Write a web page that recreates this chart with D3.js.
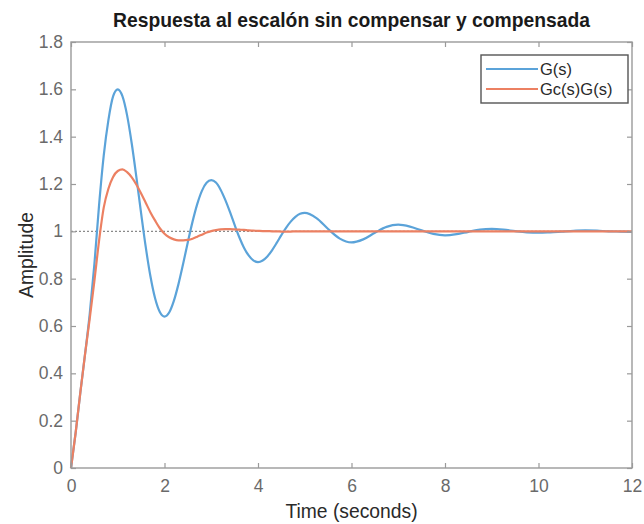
<!DOCTYPE html>
<html><head><meta charset="utf-8">
<script src="https://cdn.jsdelivr.net/npm/d3@7"></script>
<style>body{margin:0;background:#fff}svg{display:block}</style>
</head><body><svg id="c" width="644" height="524"></svg>
<script>
const titleText = "Respuesta al escalón sin compensar y compensada";
const xLabel = "Time (seconds)";
const yLabel = "Amplitude";
const seriesNames = ["G(s)", "Gc(s)G(s)"];
const xTicks = [0, 2, 4, 6, 8, 10, 12];
const yTicks = [0, 0.2, 0.4, 0.6, 0.8, 1, 1.2, 1.4, 1.6, 1.8];
const time = [0,0.1,0.2,0.3,0.4,0.5,0.6,0.7,0.8,0.9,1.0,1.1,1.2,1.3,1.4,1.5,1.6,1.7,1.8,1.9,2.0,
  2.1,2.2,2.3,2.4,2.5,2.6,2.7,2.8,2.9,3.0,3.1,3.2,3.3,3.4,3.5,3.6,3.7,3.8,3.9,4.0,
  4.1,4.2,4.3,4.4,4.5,4.6,4.7,4.8,4.9,5.0,
  5.25,5.5,5.75,6,6.25,6.5,6.75,7,7.25,7.5,7.75,8,8.25,8.5,8.75,9,9.25,9.5,9.75,10,10.25,10.5,10.75,11,11.25,11.5,11.75,12];
const gValues = [0,0.15,0.32,0.48,0.65,0.86,1.11,1.32,1.47,1.57,1.60,1.571,1.49,1.37,1.227,1.076,0.932,0.809,0.716,0.659,0.64,
  0.657,0.706,0.778,0.864,0.955,1.041,1.115,1.171,1.205,1.216,1.206,1.176,1.133,1.082,1.027,0.975,0.931,0.898,0.877,0.870,
  0.877,0.894,0.920,0.951,0.984,1.015,1.041,1.061,1.074,1.078,
  1.056,1.010,0.969,0.953,0.966,0.994,1.019,1.028,1.020,1.004,0.989,0.983,0.988,0.998,1.007,1.010,1.007,1.001,0.996,0.994,0.996,0.999,1.002,1.004,1.003,1.000,0.999,0.998];
const gcgValues = [0,0.15,0.32,0.48,0.63,0.79,0.96,1.10,1.18,1.23,1.255,1.262,1.25,1.228,1.197,1.16,1.12,1.08,1.045,1.013,0.99,
  0.975,0.966,0.962,0.962,0.964,0.969,0.977,0.986,0.995,1.001,1.005,1.008,1.009,1.009,1.008,1.007,1.006,1.004,1.003,1.002,
  1.001,1.001,1.0,1.0,0.999,0.999,0.999,1.0,1.0,1.0,
  1,1,1,1,1,1,1,1,1,1,1,1,1,1,1,1,1,1,1,1,1,1,1,1,1,1,1,1];
const refLevel = [1];

const colors = ["#5ba3d9", "#ec8062"];
const W = 644, H = 524;
const m = {left: 71, right: 12, top: 42, bottom: 56};
const iw = W - m.left - m.right, ih = H - m.top - m.bottom;
const svg = d3.select("#c");
const font = "'Liberation Sans', Arial, Helvetica, sans-serif";
const x = d3.scaleLinear().domain([0, 12]).range([m.left, m.left + iw]);
const y = d3.scaleLinear().domain([0, 1.8]).range([m.top + ih, m.top]);
const fmt = d => String(+d.toFixed(1));

// reference dotted line
svg.append("line").attr("x1", x(0)).attr("x2", x(12)).attr("y1", y(refLevel[0])).attr("y2", y(refLevel[0]))
  .attr("stroke", "#8a8a8a").attr("stroke-width", 1.2).attr("stroke-dasharray", "2,2");

const line = vals => d3.line().x((d, i) => x(time[i])).y(d => y(d)).curve(d3.curveMonotoneX)(vals);
[gValues, gcgValues].forEach((vals, k) => {
  svg.append("path").attr("d", line(vals)).attr("fill", "none").attr("stroke", colors[k])
    .attr("stroke-width", 2.2).attr("stroke-linejoin", "round");
});

const axisColor = "#9a9a9a", textColor = "#6a6a6a";
function styleAxis(g, showText) {
  g.select(".domain").remove();
  g.selectAll(".tick line").attr("stroke", axisColor).attr("stroke-width", 1.2);
  g.selectAll("text").attr("fill", textColor).style("font-family", font).style("font-size", "17.5px");
  if (!showText) g.selectAll("text").remove();
}
svg.append("g").attr("transform", `translate(0,${m.top + ih})`)
  .call(d3.axisBottom(x).tickValues(xTicks).tickFormat(fmt).tickSizeInner(-5).tickSizeOuter(0).tickPadding(12))
  .call(g => styleAxis(g, true));
svg.append("g").attr("transform", `translate(0,${m.top})`)
  .call(d3.axisTop(x).tickValues(xTicks).tickSizeInner(-5).tickSizeOuter(0))
  .call(g => styleAxis(g, false));
svg.append("g").attr("transform", `translate(${m.left},0)`)
  .call(d3.axisLeft(y).tickValues(yTicks).tickFormat(fmt).tickSizeInner(-5).tickSizeOuter(0).tickPadding(8))
  .call(g => styleAxis(g, true));
svg.append("g").attr("transform", `translate(${m.left + iw},0)`)
  .call(d3.axisRight(y).tickValues(yTicks).tickSizeInner(-5).tickSizeOuter(0))
  .call(g => styleAxis(g, false));

svg.append("rect").attr("x", m.left).attr("y", m.top).attr("width", iw).attr("height", ih)
  .attr("fill", "none").attr("stroke", axisColor).attr("stroke-width", 1.4);

// title and labels
svg.append("text").attr("x", m.left + iw / 2).attr("y", 27).attr("text-anchor", "middle")
  .style("font-family", font).style("font-size", "19.3px").style("font-weight", "bold").attr("fill", "#1a1a1a")
  .text(titleText);
svg.append("text").attr("x", m.left + iw / 2).attr("y", 518).attr("text-anchor", "middle")
  .style("font-family", font).style("font-size", "19.3px").attr("fill", "#2a2a2a").text(xLabel);
svg.append("text").attr("transform", `translate(33,${m.top + ih / 2}) rotate(-90)`).attr("text-anchor", "middle")
  .style("font-family", font).style("font-size", "19.3px").attr("fill", "#2a2a2a").text(yLabel);

// legend
const lg = svg.append("g");
lg.append("rect").attr("x", 481).attr("y", 55).attr("width", 147).attr("height", 48)
  .attr("fill", "#fff").attr("stroke", "#555").attr("stroke-width", 1.4);
seriesNames.forEach((name, k) => {
  const ly = 69 + k * 20;
  lg.append("line").attr("x1", 486).attr("x2", 538).attr("y1", ly).attr("y2", ly)
    .attr("stroke", colors[k]).attr("stroke-width", 2.2);
  lg.append("text").attr("x", 540).attr("y", ly).attr("dy", "0.35em")
    .style("font-family", font).style("font-size", "16.5px").attr("fill", "#2a2a2a").text(name);
});
</script></body></html>
